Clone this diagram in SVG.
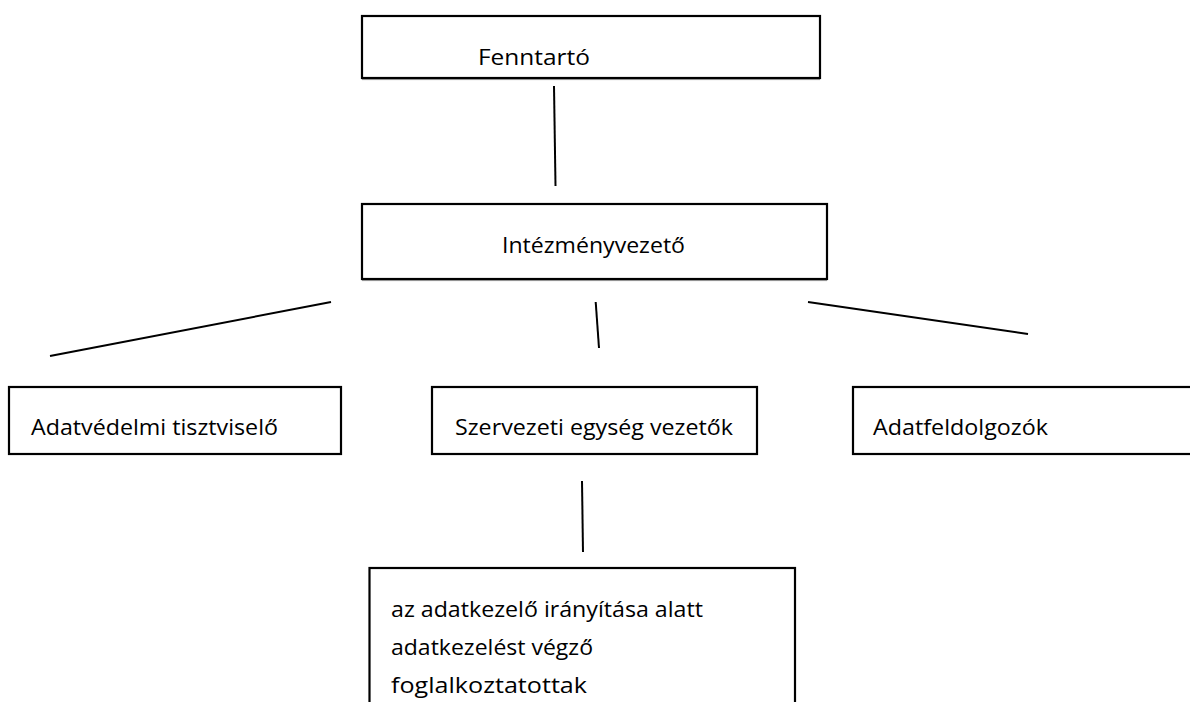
<svg xmlns="http://www.w3.org/2000/svg" width="1190" height="702" viewBox="0 0 1190 702">
<style>
.box{fill:#fff;stroke:#000;stroke-width:2.2}
.sh{fill:none;stroke:#9a9a9a;stroke-width:1}
.t{font-family:"Open Sans","Liberation Sans",sans-serif;font-size:22.5px;fill:#000}
.c{stroke:#000;stroke-width:2;fill:none}
</style>
<rect width="1190" height="702" fill="#fff"/>
<g id="n-fenntarto">
<line class="sh" x1="362" y1="79.6" x2="820" y2="79.6"/>
<rect class="box" x="362" y="16" width="458" height="62"/>
<text class="t" x="478" y="65" textLength="112" lengthAdjust="spacingAndGlyphs">Fenntartó</text>
</g>
<g id="n-intezmenyvezeto">
<line class="sh" x1="362" y1="280.6" x2="827" y2="280.6"/>
<rect class="box" x="362" y="204" width="465" height="75"/>
<text class="t" x="502" y="253" textLength="183" lengthAdjust="spacingAndGlyphs">Intézményvezető</text>
</g>
<g id="n-adatvedelmi">
<rect class="box" x="9" y="387" width="332" height="67"/>
<text class="t" x="31" y="435" textLength="247" lengthAdjust="spacingAndGlyphs">Adatvédelmi tisztviselő</text>
</g>
<g id="n-szervezeti">
<rect class="box" x="432" y="387" width="325" height="67"/>
<text class="t" x="455" y="435" textLength="278" lengthAdjust="spacingAndGlyphs">Szervezeti egység vezetők</text>
</g>
<g id="n-adatfeldolgozok">
<rect class="box" x="853" y="387" width="350" height="67"/>
<text class="t" x="873" y="435" textLength="175" lengthAdjust="spacingAndGlyphs">Adatfeldolgozók</text>
</g>
<g id="n-foglalkoztatottak">
<rect class="box" x="369.5" y="568" width="425.5" height="150"/>
<text class="t" x="391" y="617" textLength="312" lengthAdjust="spacingAndGlyphs">az adatkezelő irányítása alatt</text>
<text class="t" x="391" y="655" textLength="202" lengthAdjust="spacingAndGlyphs">adatkezelést végző</text>
<text class="t" x="391" y="693" textLength="196" lengthAdjust="spacingAndGlyphs">foglalkoztatottak</text>
</g>
<g id="connectors">
<line class="c" x1="554" y1="86" x2="555.5" y2="186"/>
<line class="c" x1="50" y1="356" x2="331" y2="302"/>
<line class="c" x1="595.7" y1="302" x2="599" y2="348"/>
<line class="c" x1="808" y1="302" x2="1028" y2="334"/>
<line class="c" x1="582" y1="481" x2="583" y2="552"/>
</g>
</svg>
